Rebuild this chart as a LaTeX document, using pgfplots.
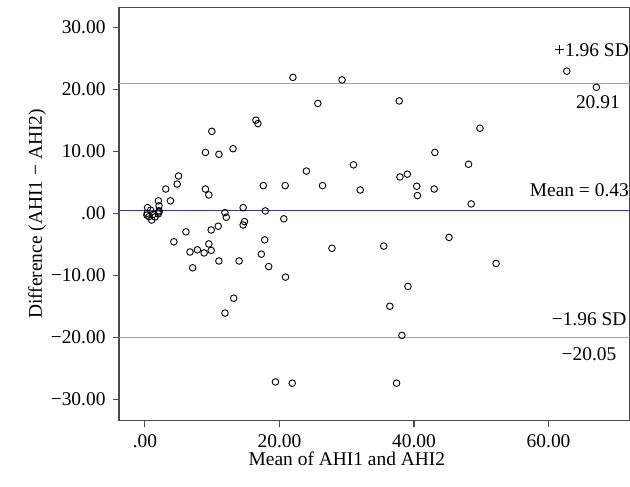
\documentclass[border=0pt]{standalone}
\usepackage{fontspec}
\setmainfont{Liberation Serif}
\usepackage{pgfplots}
\pgfplotsset{compat=1.18}
\usetikzlibrary{calc}
\definecolor{sdgreen}{RGB}{100,196,150}
\definecolor{meannavy}{RGB}{60,60,136}
\definecolor{axisgray}{RGB}{74,74,74}
\begin{document}
\begin{tikzpicture}
\begin{axis}[name=ax, scale only axis, width=511bp, height=413.4bp,
    xmin=-3.85, xmax=72.1, ymin=-33.45, ymax=33.2,
    font=\fontsize{19.5}{22}\selectfont,
    /pgf/number format/assume math mode=true,
    axis line style={axisgray, line width=1.1pt},
    tick style={axisgray, line width=1.1pt},
    tick align=outside, major tick length=6bp,
    xtick={0,20,40,60}, xticklabels={.00,20.00,40.00,60.00},
    ytick={-30,-20,-10,0,10,20,30},
    yticklabels={−30.00,−20.00,−10.00,.00,10.00,20.00,30.00},
    xtick pos=bottom, ytick pos=left,
    xticklabel style={yshift=-4bp}, yticklabel style={xshift=-4bp},
    xlabel={Mean of AHI1 and AHI2},
    xlabel style={at={(ticklabel cs:0.446)}, anchor=near ticklabel, yshift=2bp},
    ylabel={Difference (AHI1 − AHI2)},
    ylabel style={yshift=-2bp},
    clip=false]
% limits of agreement and mean difference
\addplot[draw=sdgreen, line width=1.6pt, mark=none]
    coordinates {(-3.85,20.91) (72.1,20.91)};
\addplot[draw=sdgreen, line width=1.6pt, mark=none]
    coordinates {(-3.85,-20.05) (72.1,-20.05)};
\addplot[draw=meannavy, line width=1.1pt, mark=none]
    coordinates {(-3.85,0.43) (72.1,0.43)};
% differences
\addplot[only marks, mark=o, mark size=3.3bp, mark options={black, line width=0.9pt}]
    coordinates {
    (0.4,0.9) (0.85,0.5) (0.35,0.0) (0.6,-0.55) (1.0,-1.1) (1.2,-0.2)
    (2.1,0.2) (2.1,0.4) (2.1,1.2) (2.0,2.0) (0.3,-0.3) (1.5,-0.6) (2.0,-0.1)
    (3.8,2.0) (3.1,3.9) (4.8,4.7) (5.0,6.0) (4.3,-4.6) (6.1,-3.0) (6.7,-6.25)
    (7.1,-8.8) (7.8,-5.9) (8.8,-6.4) (9.0,3.9) (9.5,2.95) (9.0,9.8) (9.95,13.2)
    (11.0,9.5) (13.1,10.4) (9.85,-2.7) (10.9,-2.1) (9.5,-4.95) (9.85,-6.0)
    (11.0,-7.7) (11.9,0.1) (12.1,-0.65) (11.9,-16.1) (13.2,-13.7) (14.0,-7.7)
    (14.6,0.9) (14.8,-1.35) (14.6,-1.9) (16.5,15.0) (16.8,14.45) (17.6,4.45)
    (17.9,0.37) (17.8,-4.3) (17.3,-6.6) (18.4,-8.6) (19.4,-27.2) (20.65,-0.9)
    (20.85,4.45) (20.9,-10.3) (22.0,21.9) (21.9,-27.4) (24.0,6.8) (25.7,17.7)
    (26.4,4.45) (27.8,-5.65) (29.3,21.5) (31.0,7.8) (32.0,3.75) (35.5,-5.3)
    (36.4,-15.0) (37.4,-27.4) (37.8,18.1) (37.9,5.85) (38.2,-19.7) (39.0,6.3)
    (39.1,-11.8) (40.4,4.35) (40.5,2.85) (43.0,3.9) (43.1,9.8) (45.2,-3.9)
    (48.1,7.9) (48.5,1.5) (49.8,13.7) (52.2,-8.1) (62.7,22.9) (67.1,20.3)};
\node[anchor=east, inner sep=0pt] at (axis cs:71.95,26.3) {+1.96 SD};
\node[anchor=east, inner sep=0pt] at (axis cs:70.6,17.95) {20.91};
\node[anchor=east, inner sep=0pt] at (axis cs:71.95,3.76) {Mean = 0.43};
\node[anchor=east, inner sep=0pt] at (axis cs:71.6,-17.05) {−1.96 SD};
\node[anchor=east, inner sep=0pt] at (axis cs:70.1,-22.7) {−20.05};
\end{axis}
\pgfresetboundingbox
\path[use as bounding box] ($(ax.south west)+(-119bp,-66.3bp)$) rectangle ($(ax.north east)+(0,7.3bp)$);
\end{tikzpicture}
\end{document}
